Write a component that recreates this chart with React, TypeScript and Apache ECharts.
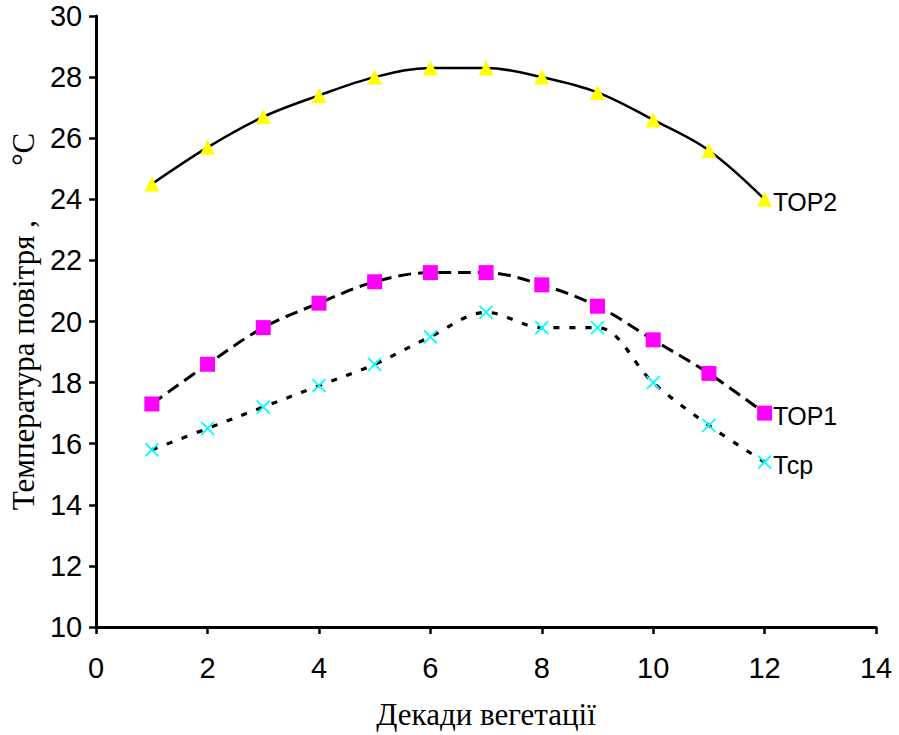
import React, { useEffect, useRef } from "react";
import * as echarts from "echarts";

const decades = [1, 2, 3, 4, 5, 6, 7, 8, 9, 10, 11, 12];
const top2 = [24.5, 25.7, 26.7, 27.4, 28.0, 28.3, 28.3, 28.0, 27.5, 26.6, 25.6, 24.0];
const top1 = [17.3, 18.6, 19.8, 20.6, 21.3, 21.6, 21.6, 21.2, 20.5, 19.4, 18.3, 17.0];
const tcp = [15.8, 16.5, 17.2, 17.9, 18.6, 19.5, 20.3, 19.8, 19.8, 18.0, 16.6, 15.4];
const seriesNames = ["ТОР2", "ТОР1", "Тср"];

const xTitle = "Декади вегетації";
const yTitle = "Температура повітря ,\u00a0\u00a0\u00a0\u00a0\u00a0\u00a0\u00a0°C";

const SANS = "'Liberation Sans', Arial, sans-serif";
const SERIF = "'Liberation Serif', 'Times New Roman', serif";

function pairs(vals: number[]) {
  return decades.map((d, i) => [d, vals[i]]);
}

export default function App() {
  const ref = useRef<HTMLDivElement>(null);
  useEffect(() => {
    if (!ref.current) return;
    const chart = echarts.init(ref.current, null, { renderer: "svg" });
    const endLabel = (name: string) => ({
      show: true,
      position: "right",
      distance: 1,
      offset: [0, 3],
      formatter: () => name,
      fontFamily: SANS,
      fontSize: 25,
      color: "#000",
    });
    const mk = (vals: number[], name: string) =>
      pairs(vals).map((p, i) =>
        i === vals.length - 1 ? { value: p, label: endLabel(name) } : { value: p }
      );
    chart.setOption({
      animation: false,
      backgroundColor: "#fff",
      grid: { left: 95, right: 23, top: 16, bottom: 106, containLabel: false },
      xAxis: {
        type: "value",
        min: 0,
        max: 14,
        interval: 2,
        name: xTitle,
        nameLocation: "middle",
        nameGap: 72,
        nameTextStyle: { fontFamily: SERIF, fontSize: 31, color: "#000" },
        axisLine: { show: true, lineStyle: { color: "#000", width: 3 } },
        axisTick: { show: true, length: 7, lineStyle: { color: "#000", width: 2.5 } },
        axisLabel: { fontFamily: SANS, fontSize: 29, color: "#000", margin: 26 },
        splitLine: { show: false },
      },
      yAxis: {
        type: "value",
        min: 10,
        max: 30,
        interval: 2,
        name: yTitle,
        nameLocation: "middle",
        nameGap: 56,
        nameRotate: 90,
        nameTextStyle: { fontFamily: SERIF, fontSize: 31, color: "#000" },
        axisLine: { show: true, lineStyle: { color: "#000", width: 3 } },
        axisTick: { show: true, length: 7, lineStyle: { color: "#000", width: 2.5 } },
        axisLabel: { fontFamily: SANS, fontSize: 29, color: "#000", margin: 14 },
        splitLine: { show: false },
      },
      series: [
        {
          name: seriesNames[0],
          type: "line",
          data: mk(top2, seriesNames[0]),
          smooth: 0.35,
          symbol: "triangle",
          symbolSize: [15, 15],
          lineStyle: { color: "#000", width: 2.5, type: "solid" },
          itemStyle: { color: "#FFFF00", borderWidth: 0 },
        },
        {
          name: seriesNames[1],
          type: "line",
          data: mk(top1, seriesNames[1]),
          smooth: 0.35,
          symbol: "rect",
          symbolSize: 15,
          lineStyle: { color: "#000", width: 3, type: [13, 7] },
          itemStyle: { color: "#FF00FF", borderWidth: 0 },
        },
        {
          name: seriesNames[2],
          type: "line",
          data: mk(tcp, seriesNames[2]),
          smooth: 0.35,
          symbol: "path://M0,0L10,10M10,0L0,10",
          symbolSize: 13,
          lineStyle: { color: "#000", width: 3.2, type: [6, 10] },
          itemStyle: { color: "rgba(0,0,0,0)", borderColor: "#00FFFF", borderWidth: 1.8 },
        },
      ],
    });
    return () => chart.dispose();
  }, []);
  return (
    <div
      ref={ref}
      style={{ position: "fixed", left: 0, top: 0, width: 899, height: 735, background: "#fff" }}
    />
  );
}
